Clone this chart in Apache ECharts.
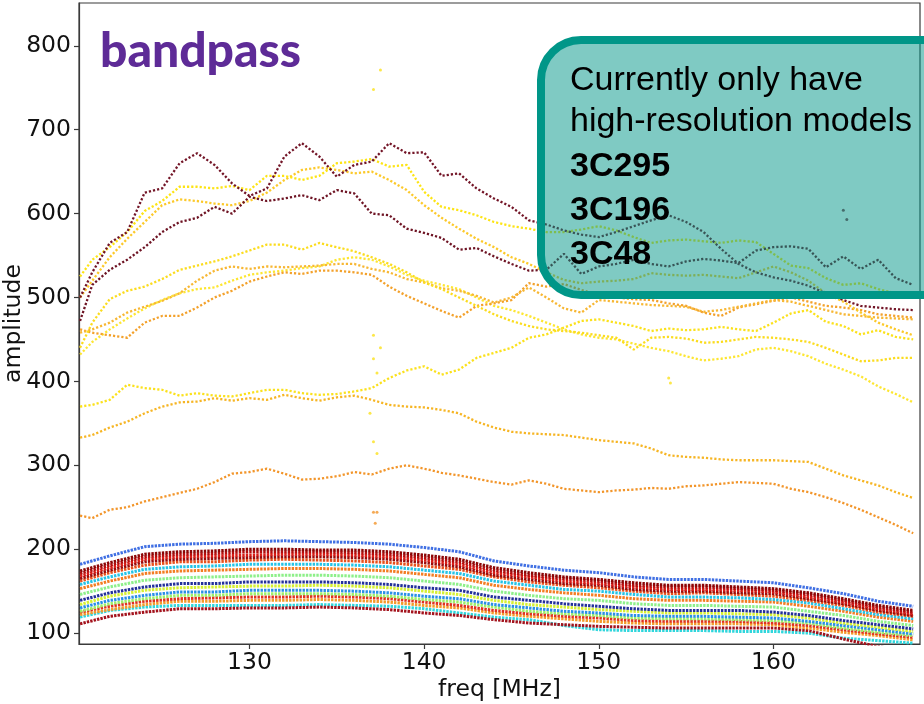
<!DOCTYPE html>
<html>
<head>
<meta charset="utf-8">
<script src="https://cdn.jsdelivr.net/npm/echarts@6/dist/echarts.min.js"></script>
<style>
html,body{margin:0;padding:0;background:#fff;}
#chart{width:924px;height:704px;}
</style>
</head>
<body>
<div id="chart"></div>
<script>
// ---------- data ----------
const freqUpper = [120.3,121,122,123,124,125,126,127,128,129,130,131,132,133,134,135,136,137,138,139,140,141,142,143,144,145,146,147,148,149,150,151,152,153,154,155,156,157,158,159,160,161,162,163,164,165,166,167,168];
const freqLower = [120.3,122,124,126,128,130,132,134,136,138,140,142,144,146,148,150,152,154,156,158,160,162,164,166,168];
const xTicks = [130,140,150,160];
const yTicks = [100,200,300,400,500,600,700,800];

// bright sources (upper group)
const maroonA = [500,530,565,578,625,630,660,672,658,636, 621,630,668,684,668,644,658,662,684,672, 673,645,648,630,618,608,592,587,580,575, 572,578,585,592,598,590,578,558,540,530, 524,520,514,505,497,490,488,486,485];
const maroonB = [472,515,533,545,560,578,590,595,608,600, 620,615,618,622,616,628,624,600,598,582, 577,571,557,559,549,540,532,533,552,528, 537,540,545,540,537,543,546,544,541,556, 560,561,558,536,549,534,545,523,515];
const yellowA = [525,545,560,578,603,615,632,632,630,633, 628,645,645,640,645,660,662,665,656,658, 626,608,604,598,590,585,582,578,578,581, 585,580,572,565,568,569,567,565,568,566, 552,538,535,523,515,517,510,505,500];
const goldA   = [500,520,548,570,590,610,617,615,612,610, 615,625,640,652,655,652,648,650,640,628, 610,595,582,570,560,548,540,530,521,517, 519,520,522,529,527,526,527,525,523,530, 537,530,520,505,495,482,470,462,455];
const yellowB = [440,470,498,508,513,522,533,538,543,549, 556,563,563,557,565,560,555,548,540,530, 518,510,500,490,480,472,466,462,460,458, 455,452,438,452,453,451,446,447,450,453, 452,450,447,440,432,424,425,428,428];
const orangeA = [458,462,470,482,489,496,505,520,532,537, 534,537,536,537,538,540,540,534,530,522, 518,511,508,502,494,500,512,500,487,482, 497,495,493,491,490,489,483,485,489,493, 497,495,490,485,480,478,476,475,474];
const orangeB = [462,458,455,452,470,478,478,488,500,508, 519,525,530,528,532,532,530,527,513,502, 493,484,476,490,493,497,517,513,516,509, 503,500,498,497,493,490,482,478,488,492, 496,500,495,490,488,485,480,478,476];
const yellowC = [432,447,462,475,487,497,505,510,512,520, 527,530,532,535,537,545,548,545,537,527, 520,515,510,500,490,485,478,470,462,456, 452,450,445,440,436,430,425,427,430,438, 440,436,430,421,414,406,394,385,375];
const yellowD = [370,372,378,396,392,390,383,386,383,382, 386,390,390,386,384,385,388,392,404,413, 418,408,414,428,434,440,452,456,464,472, 474,470,466,460,463,461,462,465,462,460, 470,481,485,471,466,456,461,453,450];
const goldB   = [333,336,345,352,362,370,375,376,380,377, 380,378,384,380,377,381,383,378,372,370, 369,366,362,352,345,340,338,337,336,333, 330,328,326,320,312,310,309,307,306,306, 306,305,304,296,288,282,276,268,261];
const orangeC = [240,237,247,250,257,262,267,272,280,290, 292,296,290,283,284,287,292,289,296,300, 296,291,288,284,280,277,282,278,272,270, 268,270,271,273,272,275,276,278,280,279, 278,272,268,262,255,247,238,229,219];

// isolated points
const spikeYellow = [[137.5,771],[137.1,748],[137.1,455],[137.5,440],[137.1,427],[137.3,410],[136.9,362],[137.1,328],[137.3,314],[154.0,404],[154.1,398]];
const spikeOrange = [[137.1,244],[137.3,244],[137.2,231]];
const spikeMaroon = [[164.0,604],[164.2,593]];

// faint sources (lower band)
const lowBlueTop  = [182,192,203,206,207,209,210,209,208,206,202,197,186,180,175,172,167,164,164,162,160,154,147,138,132];
const lowDarkRed1 = [174,184,194,197,198,200,200,199,199,197,193,188,178,172,167,164,160,157,157,155,153,148,141,133,127];
const lowDarkRed2 = [171,181,191,194,195,197,197,197,196,194,190,185,175,169,165,162,157,155,155,153,151,146,139,131,125];
const lowRed1     = [168,178,188,191,192,193,194,194,193,191,187,182,172,167,162,159,155,152,152,151,149,143,137,129,123];
const lowDarkRed3 = [165,175,185,188,189,190,191,191,190,188,184,179,169,164,159,157,152,150,150,148,147,141,135,127,121];
const lowOrRed    = [162,172,181,185,185,187,188,187,186,184,180,176,167,161,157,154,150,147,148,146,144,139,133,125,120];
const lowCyan1    = [158,167,176,179,180,182,182,182,181,179,175,171,162,157,152,150,146,143,143,142,140,136,129,122,117];
const lowOrange1  = [153,162,171,174,175,176,177,177,176,174,170,166,157,152,148,145,141,139,139,138,137,132,126,119,114];
const lowGreen1   = [146,155,163,166,167,168,169,169,168,166,162,158,150,145,141,139,135,133,133,132,131,126,121,114,109];
const lowNavy     = [139,148,155,159,159,161,161,161,160,158,154,151,143,139,135,132,129,127,127,127,125,121,115,110,105];
const lowYelGreen = [134,144,151,154,155,156,156,157,156,154,150,146,139,134,131,128,126,124,124,123,122,118,112,107,102];
const lowBlue2    = [130,139,145,149,149,151,151,151,150,148,144,141,134,130,126,124,121,120,120,119,118,114,109,104,99];
const lowGreen2   = [126,135,141,145,145,147,147,147,146,144,140,137,131,126,123,121,118,117,117,116,115,112,106,101,97];
const lowRed2     = [125,132,138,141,142,143,143,144,143,141,137,133,127,123,120,118,115,114,114,114,112,109,104,99,95];
const lowOrange2  = [122,128,134,138,138,139,139,140,139,137,133,130,124,120,117,114,112,111,111,111,110,106,101,97,92];
const lowCyan2    = [119,127,131,133,133,133,133,134,133,132,129,124,119,116,109,104,103,103,103,102,102,100,94,91,88];
const lowMaroon   = [111,120,125,129,129,130,130,131,130,128,124,121,116,112,110,108,107,106,106,106,106,103,93,84,78];

// ---------- styles ----------
const lowerDefs = [
  [lowCyan2,'#2fd6dc'],[lowMaroon,'#a3121c'],[lowOrange2,'#f39a2a'],[lowRed2,'#e0311f'],
  [lowGreen2,'#9cf06a'],[lowBlue2,'#2a8fe6'],[lowYelGreen,'#d6f032'],[lowNavy,'#23309a'],
  [lowGreen1,'#8ef08a'],[lowOrange1,'#f37d22'],[lowCyan1,'#25c3e6'],[lowOrRed,'#e8501c'],
  [lowDarkRed3,'#9c0a0a'],[lowRed1,'#d81c16'],[lowDarkRed2,'#b30d0d'],[lowDarkRed1,'#8c0606'],
  [lowBlueTop,'#3f6fe3']
];
const upperDefs = [
  [orangeC,'#f2952a'],[goldB,'#f6b524'],[yellowD,'#fbe11c'],[yellowC,'#fde632'],
  [orangeB,'#f3a12b'],[orangeA,'#f7b733'],[yellowB,'#fbdc1e'],[goldA,'#fcc92a'],
  [yellowA,'#fde414'],[maroonB,'#6e1424'],[maroonA,'#731527']
];

function lineSeries(freqs, vals, color, width, dash){
  return {
    type:'line', data: freqs.map((f,i)=>[f, vals[i]]), showSymbol:false, symbol:'none',
    silent:true, animation:false, clip:true,
    lineStyle:{color:color, width:width, type:dash}
  };
}
const series = [];
lowerDefs.forEach(d=>series.push(lineSeries(freqLower, d[0], d[1], 3, [2.4,1.1])));
upperDefs.forEach(d=>series.push(lineSeries(freqUpper, d[0], d[1], 2.3, [2.2,2])));
[[spikeYellow,'#fbe11c'],[spikeOrange,'#f2952a'],[spikeMaroon,'#6e1424']].forEach(d=>{
  series.push({type:'scatter', data:d[0], symbolSize:3, silent:true, animation:false,
    itemStyle:{color:d[1]}});
});

const chart = echarts.init(document.getElementById('chart'), null, {renderer:'canvas'});
const axisFont = {fontFamily:'DejaVu Sans', fontSize:23.5, color:'#111'};
chart.setOption({
  animation:false,
  backgroundColor:'#ffffff',
  grid:{left:79, right:4, top:3, bottom:60, containLabel:false, outerBoundsMode:'none',
        show:true, borderColor:'#3a3a3a', borderWidth:1.2, backgroundColor:'transparent'},
  xAxis:{
    type:'value', min:120.24, max:168.39,
    name:'freq [MHz]', nameLocation:'middle', nameGap:34, nameMoveOverlap:false,
    nameTextStyle:axisFont,
    axisLine:{show:true, onZero:false, lineStyle:{color:'#3a3a3a', width:1.2}},
    axisTick:{show:true, length:5, inside:false, customValues:xTicks, lineStyle:{color:'#3a3a3a', width:1.2}},
    axisLabel:{customValues:xTicks, margin:7, ...axisFont},
    splitLine:{show:false}
  },
  yAxis:{
    type:'value', min:87, max:851,
    name:'amplitude', nameLocation:'middle', nameGap:53, nameRotate:90, nameMoveOverlap:false,
    nameTextStyle:axisFont,
    axisLine:{show:true, onZero:false, lineStyle:{color:'#3a3a3a', width:1.2}},
    axisTick:{show:true, length:5, inside:false, customValues:yTicks, lineStyle:{color:'#3a3a3a', width:1.2}},
    axisLabel:{customValues:yTicks, margin:8, ...axisFont},
    splitLine:{show:false}
  },
  series: series,
  graphic:[
    {type:'text', z:100, left:100, top:28, style:{text:'bandpass', font:'900 48px Lato', fill:'#5e2b97'}},
    {type:'rect', z:100, shape:{x:541, y:40, width:440, height:255, r:40},
      style:{fill:'rgba(0,150,136,0.5)', stroke:'#009688', lineWidth:8}},
    {type:'text', z:101, x:570, y:81, style:{text:'Currently only have', font:'34px "Liberation Sans"', fill:'#000', verticalAlign:'middle'}},
    {type:'text', z:101, x:570, y:122, style:{text:'high-resolution models', font:'34px "Liberation Sans"', fill:'#000', verticalAlign:'middle'}},
    {type:'text', z:101, x:570, y:167, style:{text:'3C295', font:'bold 34px "Liberation Sans"', fill:'#000', verticalAlign:'middle'}},
    {type:'text', z:101, x:570, y:211, style:{text:'3C196', font:'bold 34px "Liberation Sans"', fill:'#000', verticalAlign:'middle'}},
    {type:'text', z:101, x:570, y:255, style:{text:'3C48', font:'bold 34px "Liberation Sans"', fill:'#000', verticalAlign:'middle'}}
  ]
});
</script>
</body>
</html>
